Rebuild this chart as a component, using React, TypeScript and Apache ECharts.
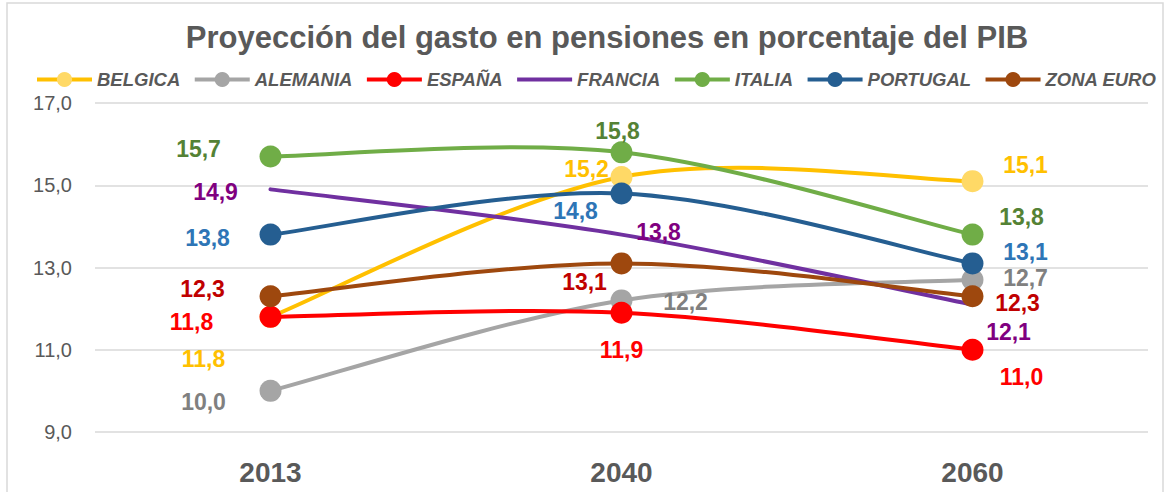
import React, { useEffect, useRef } from 'react';
import * as echarts from 'echarts';

const years = ['2013', '2040', '2060'];
const seriesNames = ['BELGICA', 'ALEMANIA', 'ESPAÑA', 'FRANCIA', 'ITALIA', 'PORTUGAL', 'ZONA EURO'];
const belgica = [11.8, 15.2, 15.1];
const alemania = [10.0, 12.2, 12.7];
const espana = [11.8, 11.9, 11.0];
const francia = [14.9, 13.8, 12.1];
const italia = [15.7, 15.8, 13.8];
const portugal = [13.8, 14.8, 13.1];
const zonaEuro = [12.3, 13.1, 12.3];
const yMin = 9;
const yMax = 17;
const yStep = 2;
const titleText = 'Proyección del gasto en pensiones en porcentaje del PIB';

const seriesValues = [belgica, alemania, espana, francia, italia, portugal, zonaEuro];

const seriesStyles = [
  { line: '#FFC000', marker: '#FFD966', label: '#FFC000', showMarker: true, offsets: [[-67, 42], [-35, -8], [53, -16]] },
  { line: '#A5A5A5', marker: '#A5A5A5', label: '#808080', showMarker: true, offsets: [[-67, 11], [64, 2], [53, -2]] },
  { line: '#FF0000', marker: '#FF0000', label: '#FF0000', showMarker: true, offsets: [[-79, 5], [0, 37], [49, 27]] },
  { line: '#7030A0', marker: '#7030A0', label: '#800080', showMarker: false, offsets: [[-55, 3], [37, -3], [36, 27]] },
  { line: '#70AD47', marker: '#70AD47', label: '#548235', showMarker: true, offsets: [[-72, -7], [-4, -21], [49, -18]] },
  { line: '#255E91', marker: '#255E91', label: '#2E75B6', showMarker: true, offsets: [[-63, 3], [-46, 18], [53, -11]] },
  { line: '#9E480E', marker: '#9E480E', label: '#C00000', showMarker: true, offsets: [[-68, -7], [-37, 19], [45, 7]] },
];

const fmt = (v: number) => v.toFixed(1).replace('.', ',');
const FONT = 'Liberation Sans';

// Excel-like smoothed curve (Catmull-Rom style bezier) through pixel points
function smoothPath(pts: number[][]): string {
  let d = `M${pts[0][0]},${pts[0][1]}`;
  for (let i = 0; i < pts.length - 1; i++) {
    const p0 = pts[i - 1] || pts[i];
    const p1 = pts[i];
    const p2 = pts[i + 1];
    const p3 = pts[i + 2] || pts[i + 1];
    const c1x = p1[0] + (p2[0] - p0[0]) / 6;
    const c1y = p1[1] + (p2[1] - p0[1]) / 6;
    const c2x = p2[0] - (p3[0] - p1[0]) / 6;
    const c2y = p2[1] - (p3[1] - p1[1]) / 6;
    d += ` C${c1x},${c1y} ${c2x},${c2y} ${p2[0]},${p2[1]}`;
  }
  return d;
}

export default function App() {
  const ref = useRef<HTMLDivElement>(null);
  useEffect(() => {
    if (!ref.current) return;
    const chart = echarts.init(ref.current, undefined, { renderer: 'svg' });
    const series: any[] = [];
    seriesNames.forEach((name, i) => {
      const st = seriesStyles[i];
      const vals = seriesValues[i];
      series.push({
        name: name + ' (curva)',
        type: 'custom',
        z: 2 + 2 * i,
        silent: true,
        data: vals.map((v, j) => [j, v]),
        encode: { x: 0, y: 1 },
        renderItem: (params: any, api: any) => {
          if (params.dataIndex !== 0) return null;
          const pts = vals.map((v, j) => api.coord([j, v]));
          return {
            type: 'path',
            shape: { pathData: smoothPath(pts) },
            style: { fill: 'none', stroke: st.line, lineWidth: 4, lineCap: 'round', lineJoin: 'round' },
            silent: true,
          };
        },
      });
      series.push({
        name,
        type: 'line',
        smooth: false,
        symbol: 'circle',
        symbolSize: st.showMarker ? 22 : 4,
        showSymbol: true,
        lineStyle: { color: st.line, width: 4, opacity: 0 },
        itemStyle: { color: st.marker, opacity: st.showMarker ? 1 : 0 },
        z: 3 + 2 * i,
        data: vals.map((v, j) => ({
          value: v,
          label: { offset: st.offsets[j] },
        })),
        label: {
          show: true,
          position: 'inside',
          formatter: (p: any) => fmt(p.value),
          color: st.label,
          opacity: 1,
          fontFamily: FONT,
          fontWeight: 'bold',
          fontSize: 23,
        },
        emphasis: { disabled: true },
      });
    });
    chart.setOption({
      animation: false,
      graphic: [
        {
          type: 'rect',
          shape: { x: 7, y: 3, width: 1156, height: 500 },
          style: { fill: 'none', stroke: '#D9D9D9', lineWidth: 1.5 },
          silent: true,
        },
        {
          type: 'text',
          x: 607,
          y: 37,
          style: {
            text: titleText,
            fontFamily: FONT,
            fontWeight: 'bold',
            fontSize: 31,
            fill: '#595959',
            textAlign: 'center',
            textVerticalAlign: 'middle',
          },
        },
      ],
      legend: {
        left: 35,
        top: 70,
        padding: 0,
        width: 1134,
        itemWidth: 55,
        itemHeight: 19,
        itemGap: 12.5,
        lineStyle: { width: 4, opacity: 1 },
        textStyle: {
          fontFamily: FONT,
          fontWeight: 'bold',
          fontStyle: 'italic',
          fontSize: 18.5,
          color: '#595959',
        },
        data: seriesNames,
      },
      grid: { left: 95, right: 21, top: 103, bottom: 60, containLabel: false },
      xAxis: {
        type: 'category',
        data: years,
        boundaryGap: true,
        axisLine: { show: false },
        axisTick: { show: false },
        axisLabel: {
          margin: 26,
          fontFamily: FONT,
          fontWeight: 'bold',
          fontSize: 28,
          color: '#595959',
        },
      },
      yAxis: {
        type: 'value',
        min: yMin,
        max: yMax,
        interval: yStep,
        axisLine: { show: false },
        axisTick: { show: false },
        splitLine: { lineStyle: { color: '#D9D9D9', width: 1.5 } },
        axisLabel: {
          margin: 23,
          formatter: (v: number) => fmt(v),
          fontFamily: FONT,
          fontSize: 20,
          color: '#595959',
        },
      },
      series,
    });
    return () => chart.dispose();
  }, []);
  return <div ref={ref} style={{ position: 'absolute', left: 0, top: 0, width: 1169, height: 492 }} />;
}
